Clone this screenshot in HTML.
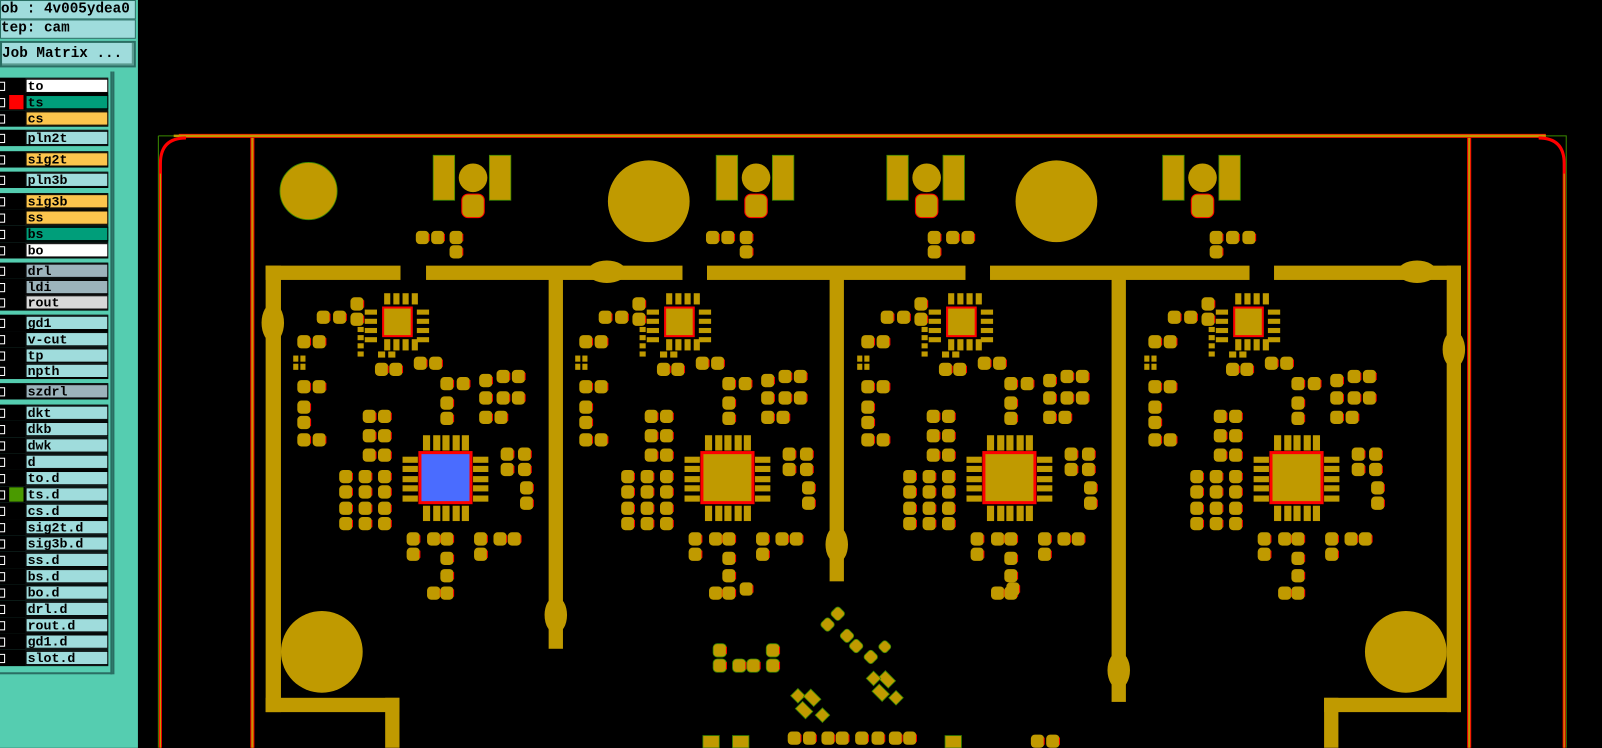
<!DOCTYPE html>
<html><head><meta charset="utf-8"><style>
html,body{margin:0;padding:0;background:#000;width:1602px;height:748px;overflow:hidden}
#w{position:absolute;left:0;top:0;width:1568px;height:732px;transform:scale(1.02168);transform-origin:0 0;background:#000}
#p{position:absolute;left:0;top:0;width:135px;height:732px;background:#55cdb0}
.hd{position:absolute;left:0;width:131px;height:17px;background:#9fdcdc;border:1px solid #2a6e63;font:bold 14px "Liberation Mono",monospace;color:#000;line-height:17px;white-space:pre;overflow:hidden}
#lst{position:absolute;left:0;top:70px;width:108px;height:588px;background:#55cdb0;border-right:2px solid #2a6e63;border-bottom:2px solid #2a6e63}
.r{position:absolute;left:0;width:106px;height:16px;background:#000}
.r .cb{position:absolute;left:-4px;top:4px;width:7px;height:7px;border:1px solid #fff;background:#000}
.r .n{position:absolute;left:25px;top:1px;border:1px solid #000;font:bold 13px "Liberation Mono",monospace;line-height:13px;padding-left:1px;box-sizing:border-box;width:81px;height:14px}
.c1{background:#9fdcdc}.cy{background:#fcc54d}.cg{background:#009e7a}.cw{background:#fff}.cgr{background:#9cb3bb}.cl{background:#d8d8d8}
</style></head><body><div id="w">
<div id="p">
<div class="hd" style="top:0">ob : 4v005ydea0</div>
<div class="hd" style="top:19px">tep: cam</div>
<div class="hd" style="top:40px;height:22px;line-height:22px;background:#9fdcdc;border:2px solid #2a6e63;width:129px;box-shadow:inset -2px -2px 0 #5a9a90">Job Matrix ...</div>
<div style="position:absolute;left:110px;top:70px;width:2px;height:590px;background:#2a6e63"></div>
<div id="lst"></div>
</div>
<svg style="position:absolute;left:0;top:0" width="1568" height="732" viewBox="0 0 1568 732">
<defs>
<g id="pd"><rect x="-6" y="-6" width="13" height="13" rx="4" fill="#c09a00"/><path d="M7 -3 V4" stroke="#f00" stroke-width="1"/></g>
<g id="cell" fill="#c09a00">
 <rect x="375" y="301" width="28" height="28" fill="#c09a00" stroke="#f00" stroke-width="2"/>
 <g><rect x="376" y="287" width="6" height="11"/><rect x="385" y="287" width="6" height="11"/><rect x="394" y="287" width="6" height="11"/><rect x="403" y="287" width="6" height="11"/>
 <rect x="376" y="332" width="6" height="11"/><rect x="385" y="332" width="6" height="11"/><rect x="394" y="332" width="6" height="11"/><rect x="403" y="332" width="6" height="11"/>
 <rect x="357" y="303" width="12" height="5"/><rect x="357" y="312" width="12" height="5"/><rect x="357" y="321" width="12" height="5"/><rect x="357" y="330" width="12" height="5"/>
 <rect x="408" y="303" width="12" height="5"/><rect x="408" y="312" width="12" height="5"/><rect x="408" y="321" width="12" height="5"/><rect x="408" y="330" width="12" height="5"/>
 <rect x="350" y="320" width="6" height="5"/><rect x="350" y="328" width="6" height="5"/><rect x="350" y="336" width="6" height="5"/><rect x="350" y="344" width="6" height="5"/>
 <rect x="370" y="344" width="7" height="6"/><rect x="380" y="344" width="7" height="6"/>
 <rect x="287" y="348" width="5" height="6"/><rect x="294" y="348" width="5" height="6"/><rect x="287" y="356" width="5" height="6"/><rect x="294" y="356" width="5" height="6"/></g>
 <g><rect x="414" y="426" width="7" height="15"/><rect x="424" y="426" width="7" height="15"/><rect x="433" y="426" width="7" height="15"/><rect x="443" y="426" width="7" height="15"/><rect x="452" y="426" width="7" height="15"/>
 <rect x="414" y="495" width="7" height="15"/><rect x="424" y="495" width="7" height="15"/><rect x="433" y="495" width="7" height="15"/><rect x="443" y="495" width="7" height="15"/><rect x="452" y="495" width="7" height="15"/>
 <rect x="394" y="447" width="15" height="6"/><rect x="394" y="456" width="15" height="6"/><rect x="394" y="466" width="15" height="6"/><rect x="394" y="475" width="15" height="6"/><rect x="394" y="485" width="15" height="6"/>
 <rect x="463" y="447" width="15" height="6"/><rect x="463" y="456" width="15" height="6"/><rect x="463" y="466" width="15" height="6"/><rect x="463" y="475" width="15" height="6"/><rect x="463" y="485" width="15" height="6"/></g>
 <use href="#pd" x="316" y="310"/><use href="#pd" x="332" y="310"/><use href="#pd" x="349" y="297"/><use href="#pd" x="349" y="312"/>
 <use href="#pd" x="297" y="334"/><use href="#pd" x="312" y="334"/>
 <use href="#pd" x="297" y="378"/><use href="#pd" x="312" y="378"/><use href="#pd" x="297" y="398"/><use href="#pd" x="297" y="413"/>
 <use href="#pd" x="297" y="430"/><use href="#pd" x="312" y="430"/>
 <use href="#pd" x="373" y="361"/><use href="#pd" x="387" y="361"/><use href="#pd" x="411" y="355"/><use href="#pd" x="426" y="355"/>
 <use href="#pd" x="361" y="407"/><use href="#pd" x="376" y="407"/><use href="#pd" x="361" y="426"/><use href="#pd" x="376" y="426"/><use href="#pd" x="361" y="445"/><use href="#pd" x="376" y="445"/>
 <use href="#pd" x="338" y="466"/><use href="#pd" x="357" y="466"/><use href="#pd" x="376" y="466"/>
 <use href="#pd" x="338" y="481"/><use href="#pd" x="357" y="481"/><use href="#pd" x="376" y="481"/>
 <use href="#pd" x="338" y="497"/><use href="#pd" x="357" y="497"/><use href="#pd" x="376" y="497"/>
 <use href="#pd" x="338" y="512"/><use href="#pd" x="357" y="512"/><use href="#pd" x="376" y="512"/>
 <use href="#pd" x="437" y="375"/><use href="#pd" x="453" y="375"/><use href="#pd" x="437" y="394"/><use href="#pd" x="437" y="409"/>
 <use href="#pd" x="475" y="372"/><use href="#pd" x="492" y="368"/><use href="#pd" x="507" y="368"/>
 <use href="#pd" x="475" y="389"/><use href="#pd" x="492" y="389"/><use href="#pd" x="507" y="389"/>
 <use href="#pd" x="475" y="408"/><use href="#pd" x="490" y="408"/>
 <use href="#pd" x="496" y="444"/><use href="#pd" x="513" y="444"/><use href="#pd" x="496" y="459"/><use href="#pd" x="513" y="459"/><use href="#pd" x="515" y="477"/><use href="#pd" x="515" y="492"/>
 <use href="#pd" x="404" y="527"/><use href="#pd" x="424" y="527"/><use href="#pd" x="437" y="527"/><use href="#pd" x="470" y="527"/><use href="#pd" x="489" y="527"/><use href="#pd" x="503" y="527"/>
 <use href="#pd" x="404" y="542"/><use href="#pd" x="470" y="542"/><use href="#pd" x="437" y="546"/><use href="#pd" x="437" y="563"/><use href="#pd" x="424" y="580"/><use href="#pd" x="437" y="580"/>
</g>
<g id="top" fill="#c09a00">
 <rect x="424" y="152" width="21" height="44" stroke="#3a8a00" stroke-width="0.8"/><rect x="479" y="152" width="21" height="44" stroke="#3a8a00" stroke-width="0.8"/>
 <circle cx="463" cy="174" r="14"/><rect x="452" y="190" width="22" height="23" rx="6" stroke="#f00" stroke-width="1"/>
</g>
</defs>
<g fill="none">
 <path d="M155 133 H1533 V732" stroke="#3a8a00" stroke-width="1"/>
 <path d="M155 133 V732" stroke="#3a8a00" stroke-width="1"/>
 <path d="M175 133 H1513" stroke="#f00" stroke-width="4"/>
 <path d="M170 133 H1513" stroke="#c09a00" stroke-width="2.5"/>
 <path d="M157 732 V160 Q157 135 182 135" stroke="#f00" stroke-width="3"/>
 <path d="M1531 732 V160 Q1531 135 1506 135" stroke="#f00" stroke-width="3"/>
 <path d="M157 732 V170 M1531 732 V170" stroke="#c09a00" stroke-width="1.2"/>
 <path d="M247 135 V732 M1438 135 V732" stroke="#f00" stroke-width="4"/>
 <path d="M247 135 V732 M1438 135 V732" stroke="#c09a00" stroke-width="2"/>
</g>
<g fill="#c09a00">
 <rect x="260" y="260" width="132" height="14"/><rect x="417" y="260" width="251" height="14"/><rect x="692" y="260" width="253" height="14"/><rect x="969" y="260" width="254" height="14"/><rect x="1247" y="260" width="183" height="14"/>
 <rect x="260" y="260" width="15" height="437"/><rect x="260" y="683" width="131" height="14"/><rect x="377" y="683" width="14" height="49"/>
 <rect x="1416" y="260" width="14" height="437"/><rect x="1296" y="683" width="134" height="14"/><rect x="1296" y="683" width="14" height="49"/>
 <rect x="537" y="273" width="14" height="362"/><rect x="812" y="273" width="14" height="296"/><rect x="1088" y="273" width="14" height="414"/>
 <ellipse cx="267" cy="316" rx="11" ry="19"/><ellipse cx="594" cy="266" rx="19" ry="11"/><ellipse cx="1387" cy="266" rx="19" ry="11"/><ellipse cx="1423" cy="342" rx="11" ry="18"/>
 <ellipse cx="544" cy="602" rx="11" ry="18"/><ellipse cx="819" cy="533" rx="11" ry="18"/><ellipse cx="1095" cy="656" rx="11" ry="18"/>
 <circle cx="302" cy="187" r="28" stroke="#3a8a00" stroke-width="0.8"/>
 <circle cx="635" cy="197" r="40"/><circle cx="1034" cy="197" r="40"/>
 <circle cx="315" cy="638" r="40"/><circle cx="1376" cy="638" r="40"/>
</g>
<use href="#top"/><use href="#top" x="277"/><use href="#top" x="444"/><use href="#top" x="714"/>
<use href="#pd" x="413" y="232"/><use href="#pd" x="428" y="232"/><use href="#pd" x="446" y="232"/><use href="#pd" x="446" y="246"/>
<use href="#pd" x="697" y="232"/><use href="#pd" x="712" y="232"/><use href="#pd" x="730" y="232"/><use href="#pd" x="730" y="246"/>
<use href="#pd" x="914" y="232"/><use href="#pd" x="932" y="232"/><use href="#pd" x="947" y="232"/><use href="#pd" x="914" y="246"/>
<use href="#pd" x="1190" y="232"/><use href="#pd" x="1206" y="232"/><use href="#pd" x="1222" y="232"/><use href="#pd" x="1190" y="246"/>
<use href="#cell"/><use href="#cell" x="276"/><use href="#cell" x="552"/><use href="#cell" x="833"/>
<rect x="411" y="443" width="50" height="49" fill="#4a6cff" stroke="#f00" stroke-width="3"/>
<rect x="687" y="443" width="50" height="49" fill="#c09a00" stroke="#f00" stroke-width="3"/>
<rect x="963" y="443" width="50" height="49" fill="#c09a00" stroke="#f00" stroke-width="3"/>
<rect x="1244" y="443" width="50" height="49" fill="#c09a00" stroke="#f00" stroke-width="3"/>
<g fill="#c09a00" stroke="#3a8a00" stroke-width="0.8">
 <use href="#pd" x="704" y="636"/><use href="#pd" x="704" y="651"/><use href="#pd" x="723" y="651"/><use href="#pd" x="737" y="651"/><use href="#pd" x="756" y="636"/><use href="#pd" x="756" y="651"/>
 <rect x="815" y="595" width="11" height="11" rx="3" transform="rotate(45 820 600)"/>
 <rect x="804" y="606" width="11" height="11" rx="3" transform="rotate(45 810 612)"/>
 <rect x="823" y="617" width="11" height="11" rx="3" transform="rotate(45 829 623)"/>
 <rect x="832" y="627" width="11" height="11" rx="3" transform="rotate(45 838 633)"/>
 <rect x="847" y="638" width="11" height="11" rx="3" transform="rotate(45 853 643)"/>
 <rect x="861" y="628" width="10" height="10" rx="3" transform="rotate(45 866 633)"/>
 <rect x="776" y="676" width="10" height="10" transform="rotate(45 781 681)"/>
 <rect x="788" y="678" width="14" height="10" transform="rotate(45 795 683)"/>
 <rect x="780" y="690" width="14" height="10" transform="rotate(45 787 695)"/>
 <rect x="800" y="695" width="10" height="10" transform="rotate(45 805 700)"/>
 <rect x="861" y="660" width="14" height="10" transform="rotate(45 868 665)"/>
 <rect x="855" y="673" width="14" height="10" transform="rotate(45 862 678)"/>
 <rect x="850" y="659" width="10" height="10" transform="rotate(45 855 664)"/>
 <rect x="872" y="678" width="10" height="10" transform="rotate(45 877 683)"/>
 <rect x="688" y="720" width="16" height="12"/><rect x="717" y="720" width="16" height="12"/><rect x="925" y="720" width="16" height="12"/>
</g>
<use href="#pd" x="777" y="722"/><use href="#pd" x="792" y="722"/><use href="#pd" x="810" y="722"/><use href="#pd" x="824" y="722"/><use href="#pd" x="843" y="722"/><use href="#pd" x="859" y="722"/><use href="#pd" x="876" y="722"/><use href="#pd" x="890" y="722"/>
<use href="#pd" x="1015" y="725"/><use href="#pd" x="1030" y="725"/>
<use href="#pd" x="730" y="576"/><use href="#pd" x="991" y="576"/>
</svg>
</div>
<script>
var rows=[["to","cw",76],["ts","cg",92,"#f00"],["cs","cy",108],
["pln2t","c1",127],["sig2t","cy",148],["pln3b","c1",168],
["sig3b","cy",189],["ss","cy",205],["bs","cg",221],["bo","cw",237],
["drl","cgr",257],["ldi","cgr",273],["rout","cl",288],
["gd1","c1",308],["v-cut","c1",324],["tp","c1",340],["npth","c1",355],
["szdrl","cgr",375],
["dkt","c1",396],["dkb","c1",412],["dwk","c1",428],["d","c1",444],["to.d","c1",460],["ts.d","c1",476,"#4a9a00"],["cs.d","c1",492],["sig2t.d","c1",508],["sig3b.d","c1",524],["ss.d","c1",540],["bs.d","c1",556],["bo.d","c1",572],["drl.d","c1",588],["rout.d","c1",604],["gd1.d","c1",620],["slot.d","c1",636]];
var h="";rows.forEach(function(r){h+='<div class="r" style="top:'+(r[2]-70)+'px"><div class="cb"></div>'+(r[3]?'<div style="position:absolute;left:9px;top:1px;width:14px;height:14px;background:'+r[3]+'"></div>':'')+'<div class="n '+r[1]+'">'+r[0]+'</div></div>';});
document.getElementById("lst").innerHTML=h;
</script>
</body></html>
